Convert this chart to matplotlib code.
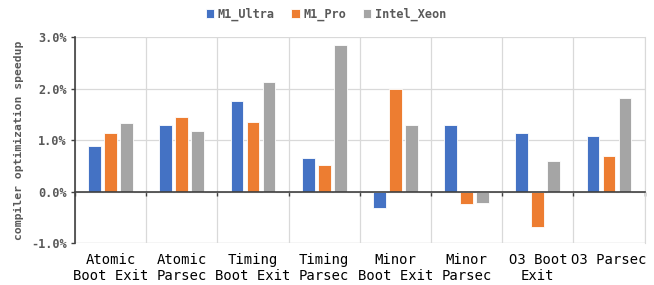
import matplotlib.pyplot as plt
import numpy as np

categories = ["Atomic\nBoot Exit", "Atomic\nParsec", "Timing\nBoot Exit", "Timing\nParsec",
              "Minor\nBoot Exit", "Minor\nParsec", "O3 Boot\nExit", "O3 Parsec"]
m1_ultra = [0.89, 1.30, 1.75, 0.66, -0.32, 1.30, 1.14, 1.07]
m1_pro = [1.14, 1.44, 1.36, 0.52, 2.00, -0.24, -0.69, 0.69]
intel_xeon = [1.34, 1.18, 2.13, 2.85, 1.29, -0.23, 0.59, 1.82]
series = [("M1_Ultra", m1_ultra, "#4472C4"),
          ("M1_Pro", m1_pro, "#ED7D31"),
          ("Intel_Xeon", intel_xeon, "#A5A5A5")]

plt.rcParams['font.family'] = ['DejaVu Sans Mono']
txt = "#595959"
fs = 8.6

fig = plt.figure(figsize=(6.54, 2.85), dpi=100)
ax = fig.add_axes([0.1147, 0.147, 0.871, 0.723])

x = np.arange(len(categories))
w = 0.18
step = 0.225
for i, (name, vals, col) in enumerate(series):
    ax.bar(x + (i - 1) * step, vals, w, color=col, edgecolor="white", linewidth=0.6,
           label=name, zorder=2)

ax.set_xlim(-0.5, len(categories) - 0.5)
ax.set_ylim(-1.0, 3.0)
ax.set_yticks([-1, 0, 1, 2, 3])
ax.set_yticklabels([f"{v:.1f}%" for v in [-1, 0, 1, 2, 3]], fontsize=fs,
                   color=txt, fontweight="bold")
ax.set_xticks(x)
ax.set_xticklabels(categories, fontsize=fs, color=txt, fontweight="bold", linespacing=1.15)
ax.set_xticks(np.arange(len(categories) + 1) - 0.5, minor=True)

ax.grid(axis="y", color="#D9D9D9", linewidth=0.9, zorder=0)
ax.grid(axis="x", which="minor", color="#D9D9D9", linewidth=0.9, zorder=0)
ax.set_axisbelow(True)

ax.spines["top"].set_visible(False)
ax.spines["right"].set_color("#D9D9D9")
ax.spines["left"].set_color("#404040")
ax.spines["left"].set_linewidth(1.2)
ax.spines["bottom"].set_position(("data", 0))
ax.spines["bottom"].set_color("#404040")
ax.spines["bottom"].set_linewidth(1.2)
ax.spines["bottom"].set_zorder(3)
ax.axhline(-1.0, color="#D9D9D9", linewidth=0.9, zorder=0)

ax.tick_params(axis="x", which="major", length=0, pad=44)
ax.tick_params(axis="x", which="minor", length=3, width=1.0, color="#404040", direction="out")
ax.tick_params(axis="y", length=3, width=1.0, color="#404040", direction="out", pad=3)

ax.set_ylabel("compiler optimization speedup", fontsize=8.2, color=txt,
              fontweight="bold", labelpad=5)

ax.legend(loc="lower center", bbox_to_anchor=(0.44, 1.025), ncol=3, frameon=False,
          handlelength=0.7, handleheight=0.7, handletextpad=0.3,
          columnspacing=1.4, labelcolor=txt, prop={"weight": "bold", "size": fs})

fig.savefig("out.png", dpi=100)
